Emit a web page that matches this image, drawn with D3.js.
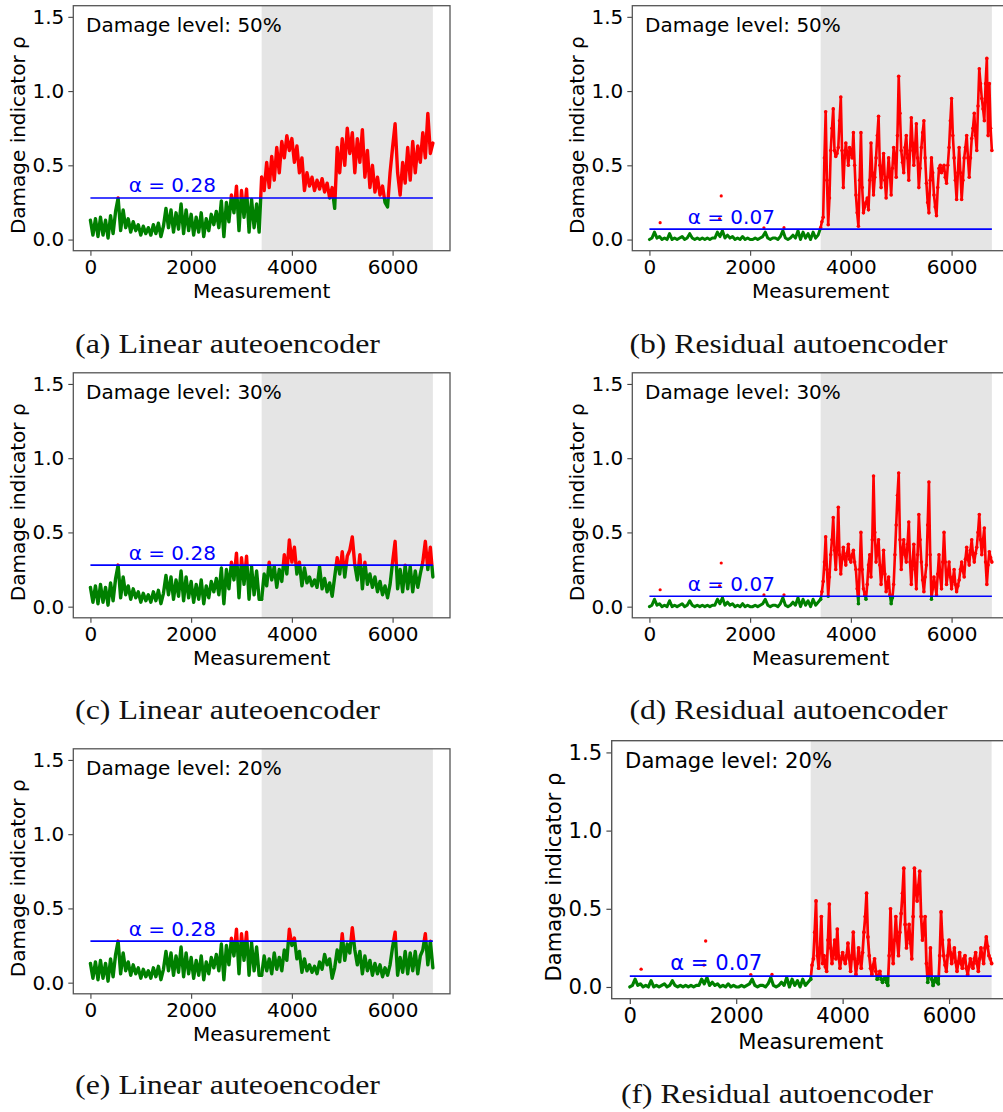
<!DOCTYPE html>
<html>
<head>
<meta charset="utf-8">
<script src="https://cdn.jsdelivr.net/npm/d3@7"></script>
<style>
  body { margin: 0; background: #fff; }
  svg { display: block; }
</style>
</head>
<body>
<svg id="fig" width="1003" height="1112"></svg>
<script>
// Damage-indicator traces, stored at fixed measurement intervals
const healthyStep = 50;          // healthy range 0..3350
const linearDamagedStep = 50;    // damaged range 3400..6800
const residualDamagedStep = 25;  // damaged range 3400..6800
const damagedStart = 3400;
const damagedEnd = 6800;

// Healthy measurements (shared by all damage levels of one model)
const linearHealthy = [
  0.13, 0.03, 0.14, 0.02, 0.15, 0.03, 0.13, 0.01, 0.16, 0.04,
  0.19, 0.28, 0.06, 0.20, 0.08, 0.14, 0.05, 0.12, 0.06, 0.10,
  0.03, 0.09, 0.04, 0.08, 0.03, 0.10, 0.04, 0.11, 0.02, 0.09,
  0.21, 0.08, 0.20, 0.05, 0.18, 0.07, 0.24, 0.04, 0.20, 0.06,
  0.17, 0.03, 0.15, 0.05, 0.18, 0.02, 0.14, 0.06, 0.17, 0.10,
  0.19, 0.08, 0.26, 0.02, 0.25, 0.12, 0.30, 0.18, 0.36, 0.06,
  0.33, 0.15, 0.34, 0.05, 0.27, 0.08, 0.24, 0.05
];
const residualHealthy = [
  0.00, 0.01, 0.05, 0.01, 0.02, 0.00, 0.01, 0.00, 0.04, 0.00,
  0.01, 0.00, 0.01, 0.02, 0.00, 0.01, 0.04, 0.01, 0.00, 0.01,
  0.00, 0.01, 0.00, 0.01, 0.00, 0.01, 0.01, 0.05, 0.02, 0.06,
  0.01, 0.03, 0.01, 0.02, 0.00, 0.01, 0.00, 0.02, 0.00, 0.01,
  0.00, 0.00, 0.01, 0.00, 0.01, 0.02, 0.05, 0.01, 0.00, 0.01,
  0.01, 0.00, 0.02, 0.06, 0.01, 0.00, 0.01, 0.03, 0.01, 0.06,
  0.00, 0.05, 0.01, 0.04, 0.00, 0.05, 0.01, 0.03
];
// Isolated residual-model readings in the healthy range
const residualOutlierX = [213, 1393, 1426, 2274, 2672];
const residualOutlierY = [0.114, 0.14, 0.294, 0.079, 0.08];

// Damaged measurements, linear autoencoder
const linearDamaged50 = [
  0.42, 0.33, 0.52, 0.35, 0.56, 0.40, 0.62, 0.45, 0.66, 0.55,
  0.70, 0.60, 0.68, 0.52, 0.63, 0.45, 0.55, 0.33, 0.45, 0.36,
  0.42, 0.33, 0.40, 0.34, 0.41, 0.32, 0.38, 0.28, 0.35, 0.21,
  0.62, 0.45, 0.68, 0.50, 0.75, 0.58, 0.72, 0.45, 0.68, 0.52,
  0.74, 0.42, 0.60, 0.35, 0.50, 0.32, 0.42, 0.30, 0.36, 0.25,
  0.22, 0.45, 0.62, 0.78, 0.45, 0.30, 0.52, 0.38, 0.62, 0.40,
  0.66, 0.45, 0.63, 0.52, 0.72, 0.55, 0.85, 0.58, 0.65
];
const linearDamaged30 = [
  0.05, 0.22, 0.14, 0.30, 0.18, 0.27, 0.13, 0.25, 0.17, 0.35,
  0.22, 0.45, 0.30, 0.40, 0.22, 0.30, 0.14, 0.26, 0.16, 0.20,
  0.14, 0.18, 0.13, 0.27, 0.12, 0.19, 0.10, 0.16, 0.07, 0.20,
  0.33, 0.22, 0.37, 0.20, 0.34, 0.38, 0.47, 0.28, 0.18, 0.35,
  0.12, 0.30, 0.15, 0.22, 0.13, 0.20, 0.10, 0.17, 0.08, 0.14,
  0.06, 0.15, 0.30, 0.44, 0.12, 0.25, 0.10, 0.28, 0.12, 0.27,
  0.10, 0.24, 0.13, 0.22, 0.30, 0.44, 0.25, 0.40, 0.20
];
const linearDamaged20 = [
  0.05, 0.18, 0.08, 0.16, 0.06, 0.20, 0.09, 0.17, 0.08, 0.22,
  0.15, 0.36, 0.25, 0.30, 0.16, 0.21, 0.07, 0.16, 0.08, 0.12,
  0.07, 0.11, 0.06, 0.14, 0.09, 0.19, 0.12, 0.16, 0.03, 0.10,
  0.22, 0.14, 0.33, 0.15, 0.26, 0.20, 0.37, 0.22, 0.12, 0.21,
  0.06, 0.18, 0.08, 0.15, 0.05, 0.13, 0.06, 0.12, 0.04, 0.10,
  0.05, 0.12, 0.24, 0.34, 0.05, 0.17, 0.07, 0.21, 0.06, 0.20,
  0.08, 0.21, 0.06, 0.18, 0.22, 0.33, 0.12, 0.28, 0.10
];

// Damaged measurements, residual autoencoder
const residualDamaged50 = [
  0.08, 0.12, 0.15, 0.55, 0.86, 0.40, 0.10, 0.28, 0.60, 0.75,
  0.88, 0.60, 0.56, 0.58, 0.62, 0.80, 0.96, 0.60, 0.35, 0.55,
  0.65, 0.58, 0.50, 0.62, 0.60, 0.55, 0.72, 0.50, 0.30, 0.18,
  0.09, 0.40, 0.72, 0.35, 0.18, 0.22, 0.25, 0.28, 0.20, 0.40,
  0.65, 0.45, 0.30, 0.42, 0.55, 0.70, 0.83, 0.50, 0.35, 0.48,
  0.58, 0.40, 0.28, 0.42, 0.55, 0.45, 0.30, 0.48, 0.62, 0.55,
  0.42, 0.70, 1.10, 0.85, 0.60, 0.52, 0.45, 0.62, 0.70, 0.55,
  0.40, 0.60, 0.82, 0.65, 0.50, 0.62, 0.78, 0.55, 0.35, 0.48,
  0.62, 0.72, 0.80, 0.55, 0.38, 0.25, 0.18, 0.40, 0.55, 0.45,
  0.30, 0.22, 0.16, 0.35, 0.48, 0.50, 0.45, 0.48, 0.50, 0.42,
  0.38, 0.50, 0.62, 0.80, 0.95, 0.70, 0.55, 0.40, 0.27, 0.45,
  0.62, 0.45, 0.27, 0.40, 0.55, 0.62, 0.70, 0.55, 0.42, 0.55,
  0.68, 0.75, 0.85, 0.70, 0.60, 0.90, 1.15, 1.05, 0.95, 0.88,
  0.80, 1.05, 1.22, 0.70, 1.05, 0.75, 0.60
];
const residualDamaged30 = [
  0.05, 0.10, 0.17, 0.30, 0.47, 0.25, 0.07, 0.20, 0.35, 0.45,
  0.60, 0.38, 0.25, 0.40, 0.67, 0.35, 0.22, 0.32, 0.40, 0.33,
  0.28, 0.36, 0.42, 0.32, 0.30, 0.35, 0.38, 0.30, 0.25, 0.12,
  0.02, 0.25, 0.50, 0.25, 0.12, 0.08, 0.05, 0.15, 0.28, 0.35,
  0.20, 0.45, 0.88, 0.50, 0.30, 0.38, 0.45, 0.28, 0.15, 0.25,
  0.38, 0.22, 0.10, 0.14, 0.20, 0.08, 0.02, 0.06, 0.15, 0.35,
  0.55, 0.75, 0.90, 0.45, 0.25, 0.38, 0.45, 0.35, 0.30, 0.42,
  0.57, 0.30, 0.15, 0.30, 0.42, 0.25, 0.12, 0.35, 0.62, 0.45,
  0.30, 0.18, 0.10, 0.20, 0.28, 0.55, 0.84, 0.35, 0.05, 0.12,
  0.20, 0.14, 0.08, 0.22, 0.35, 0.20, 0.12, 0.30, 0.50, 0.30,
  0.15, 0.22, 0.30, 0.20, 0.12, 0.18, 0.25, 0.15, 0.10, 0.14,
  0.18, 0.25, 0.30, 0.24, 0.20, 0.32, 0.40, 0.32, 0.28, 0.38,
  0.45, 0.35, 0.30, 0.36, 0.40, 0.50, 0.62, 0.45, 0.35, 0.45,
  0.53, 0.30, 0.15, 0.28, 0.37, 0.33, 0.30
];
const residualDamaged20 = [
  0.05, 0.14, 0.18, 0.35, 0.55, 0.20, 0.12, 0.25, 0.45, 0.15,
  0.20, 0.13, 0.10, 0.30, 0.53, 0.25, 0.15, 0.22, 0.30, 0.18,
  0.37, 0.20, 0.12, 0.18, 0.22, 0.18, 0.15, 0.20, 0.28, 0.18,
  0.10, 0.20, 0.35, 0.18, 0.08, 0.15, 0.25, 0.18, 0.12, 0.22,
  0.35, 0.45, 0.60, 0.32, 0.20, 0.12, 0.08, 0.14, 0.18, 0.10,
  0.05, 0.07, 0.10, 0.05, 0.03, 0.05, 0.06, 0.03, 0.01, 0.20,
  0.50, 0.25, 0.15, 0.30, 0.45, 0.30, 0.20, 0.35, 0.47, 0.60,
  0.76, 0.40, 0.25, 0.32, 0.40, 0.28, 0.18, 0.45, 0.76, 0.62,
  0.55, 0.65, 0.74, 0.45, 0.30, 0.38, 0.45, 0.15, 0.03, 0.08,
  0.25, 0.05, 0.01, 0.04, 0.06, 0.03, 0.02, 0.20, 0.48, 0.30,
  0.20, 0.14, 0.10, 0.20, 0.30, 0.22, 0.15, 0.20, 0.25, 0.16,
  0.10, 0.16, 0.22, 0.15, 0.12, 0.18, 0.20, 0.12, 0.08, 0.13,
  0.18, 0.15, 0.12, 0.18, 0.22, 0.15, 0.10, 0.18, 0.25, 0.20,
  0.15, 0.25, 0.32, 0.26, 0.20, 0.18, 0.15
];

// Thresholds and labels
const alphaLinear = 0.28;
const alphaResidual = 0.07;
const damageLevels = ["50%", "30%", "20%"];
const captions = [
  "(a) Linear auteoencoder", "(b) Residual autoencoder",
  "(c) Linear auteoencoder", "(d) Residual autoencoder",
  "(e) Linear auteoencoder", "(f) Residual autoencoder"
];
const xTicks = [0, 2000, 4000, 6000];
const yTicks = [0.0, 0.5, 1.0, 1.5];
const xDomain = [-340, 7140];
const yDomain = [-0.075, 1.575];

// Trace stroke widths per model: [healthy part, damaged part]
const traceWidths = { linear: [3.4, 3.4], residual: [3.0, 2.6] };

// Panel layout
const panels = [
  { left: 73.3,  top: 5.7,   w: 376.7, h: 245, s: 1,     kind: "linear",   healthy: linearHealthy,   damaged: linearDamaged50,   dStep: linearDamagedStep,   alpha: alphaLinear,   level: damageLevels[0], caption: captions[0], capX: 227.5, capY: 353,  capW: 305 },
  { left: 632.3, top: 5.7,   w: 376.7, h: 245, s: 1,     kind: "residual", healthy: residualHealthy, damaged: residualDamaged50, dStep: residualDamagedStep, alpha: alphaResidual, level: damageLevels[0], caption: captions[1], capX: 788.5, capY: 353,  capW: 318 },
  { left: 73.3,  top: 372.8, w: 376.7, h: 245, s: 1,     kind: "linear",   healthy: linearHealthy,   damaged: linearDamaged30,   dStep: linearDamagedStep,   alpha: alphaLinear,   level: damageLevels[1], caption: captions[2], capX: 227.5, capY: 719,  capW: 305 },
  { left: 632.3, top: 372.8, w: 376.7, h: 245, s: 1,     kind: "residual", healthy: residualHealthy, damaged: residualDamaged30, dStep: residualDamagedStep, alpha: alphaResidual, level: damageLevels[1], caption: captions[3], capX: 788.5, capY: 719,  capW: 318 },
  { left: 73.3,  top: 748.8, w: 376.7, h: 245, s: 1,     kind: "linear",   healthy: linearHealthy,   damaged: linearDamaged20,   dStep: linearDamagedStep,   alpha: alphaLinear,   level: damageLevels[2], caption: captions[4], capX: 227.5, capY: 1094, capW: 305 },
  { left: 611.7, top: 740.7, w: 398,   h: 258, s: 1.057, kind: "residual", healthy: residualHealthy, damaged: residualDamaged20, dStep: residualDamagedStep, alpha: alphaResidual, level: damageLevels[2], caption: captions[5], capX: 777,   capY: 1103, capW: 312 }
];

const svg = d3.select("#fig");
const sansFont = "DejaVu Sans, Verdana, sans-serif";
const serifFont = "Liberation Serif, Times New Roman, serif";
const GREEN = "#008000", RED = "#ff0000", BLUE = "#0000ff";

panels.forEach((p, pi) => {
  const s = p.s;
  const x = d3.scaleLinear().domain(xDomain).range([0, p.w]);
  const y = d3.scaleLinear().domain(yDomain).range([p.h, 0]);
  const g = svg.append("g").attr("transform", `translate(${p.left},${p.top})`);
  const yA = y(p.alpha);

  const defs = g.append("defs");
  defs.append("clipPath").attr("id", `above${pi}`)
    .append("rect").attr("x", 0).attr("y", 0).attr("width", p.w).attr("height", yA);
  defs.append("clipPath").attr("id", `below${pi}`)
    .append("rect").attr("x", 0).attr("y", yA).attr("width", p.w).attr("height", p.h - yA);
  defs.append("clipPath").attr("id", `axes${pi}`)
    .append("rect").attr("x", 0).attr("y", 0).attr("width", p.w).attr("height", p.h);

  // Damaged-state band
  g.append("rect")
    .attr("x", x(damagedStart)).attr("y", 0)
    .attr("width", x(damagedEnd) - x(damagedStart)).attr("height", p.h)
    .attr("fill", "#e5e5e5");

  // Damage indicator trace: green at or below the threshold, red above it
  const healthyPts = p.healthy.map((v, i) => [i * healthyStep, v]);
  const damagedPts = p.damaged.map((v, i) => [damagedStart + i * p.dStep, v]);
  const segments = [
    { pts: healthyPts.concat([damagedPts[0]]), width: traceWidths[p.kind][0] * s },
    { pts: damagedPts, width: traceWidths[p.kind][1] * s }
  ];
  const line = d3.line().x(d => x(d[0])).y(d => y(d[1]));
  const plotG = g.append("g").attr("clip-path", `url(#axes${pi})`);

  [["below", GREEN], ["above", RED]].forEach(([side, col]) => {
    const cg = plotG.append("g").attr("clip-path", `url(#${side}${pi})`);
    segments.forEach(seg => {
      cg.append("path").datum(seg.pts)
        .attr("d", line)
        .attr("fill", "none")
        .attr("stroke", col)
        .attr("stroke-width", seg.width)
        .attr("stroke-linejoin", "round")
        .attr("stroke-linecap", "round");
    });
    if (p.kind === "residual") {
      cg.selectAll("circle").data(damagedPts).join("circle")
        .attr("cx", d => x(d[0])).attr("cy", d => y(d[1]))
        .attr("r", 1.8 * s).attr("fill", col);
    }
  });

  if (p.kind === "residual") {
    plotG.selectAll("circle.outlier")
      .data(residualOutlierX.map((v, i) => [v, residualOutlierY[i]]))
      .join("circle").attr("class", "outlier")
      .attr("cx", d => x(d[0])).attr("cy", d => y(d[1]))
      .attr("r", 1.6 * s)
      .attr("fill", d => d[1] > p.alpha ? RED : GREEN);
  }

  // Threshold line and its label
  g.append("line")
    .attr("x1", x(0)).attr("x2", x(damagedEnd))
    .attr("y1", yA).attr("y2", yA)
    .attr("stroke", BLUE).attr("stroke-width", 1.7 * s);
  g.append("text")
    .attr("x", x(760)).attr("y", y(p.alpha + 0.037))
    .attr("fill", BLUE).attr("font-family", sansFont).attr("font-size", 20 * s)
    .text(`α = ${p.alpha.toFixed(2)}`);

  // Damage level annotation
  g.append("text")
    .attr("x", 12.7 * s).attr("y", 26.3 * s)
    .attr("fill", "#000").attr("font-family", sansFont).attr("font-size", 20 * s)
    .text(`Damage level: ${p.level}`);

  // Axes
  const xAxis = g.append("g").attr("transform", `translate(0,${p.h})`)
    .call(d3.axisBottom(x).tickValues(xTicks).tickFormat(d3.format("d"))
      .tickSize(5 * s).tickPadding(4 * s));
  const yAxis = g.append("g")
    .call(d3.axisLeft(y).tickValues(yTicks).tickFormat(d3.format(".1f"))
      .tickSize(5 * s).tickPadding(4 * s));
  [xAxis, yAxis].forEach(a => {
    a.select(".domain").remove();
    a.selectAll(".tick line").attr("stroke", "#444").attr("stroke-width", 1.1 * s);
    a.selectAll(".tick text").attr("fill", "#000")
      .attr("font-family", sansFont).attr("font-size", 20 * s);
  });

  // Axes frame
  g.append("rect").attr("x", 0).attr("y", 0).attr("width", p.w).attr("height", p.h)
    .attr("fill", "none").attr("stroke", "#555").attr("stroke-width", 1.3 * s);

  // Axis titles
  g.append("text")
    .attr("x", p.w / 2).attr("y", p.h + 47.3 * s)
    .attr("text-anchor", "middle")
    .attr("font-family", sansFont).attr("font-size", 20 * s).attr("fill", "#000")
    .text("Measurement");
  g.append("text")
    .attr("transform", `translate(${-48 * s},${p.h / 2 + 7 * s}) rotate(-90)`)
    .attr("text-anchor", "middle")
    .attr("font-family", sansFont).attr("font-size", 20 * s).attr("fill", "#000")
    .text("Damage indicator ρ");

  // Sub-figure caption
  svg.append("text")
    .attr("x", p.capX).attr("y", p.capY)
    .attr("text-anchor", "middle")
    .attr("font-family", serifFont).attr("font-size", 28)
    .attr("textLength", p.capW).attr("lengthAdjust", "spacingAndGlyphs")
    .attr("fill", "#111")
    .text(p.caption);
});
</script>
</body>
</html>
